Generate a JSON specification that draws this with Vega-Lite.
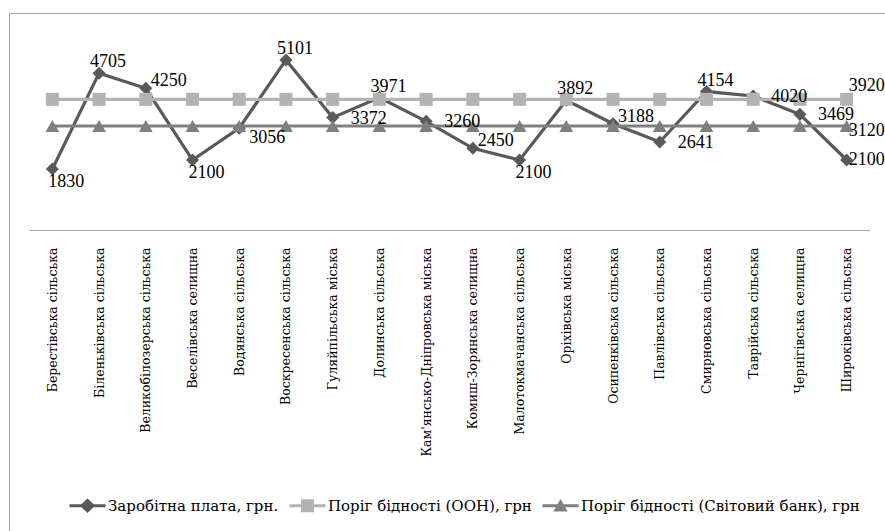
{
  "$schema": "https://vega.github.io/schema/vega-lite/v6.json",
  "autosize": {"type": "none"},
  "padding": {"left": 9, "top": 13, "right": -6, "bottom": -6},
  "width": 882,
  "height": 524,
  "background": "white",
  "config": {
    "view": {"stroke": "#a6a6a6", "strokeWidth": 1},
    "font": "DejaVu Serif",
    "text": {"font": "Liberation Serif", "fontSize": 18, "color": "black", "baseline": "middle"}
  },
  "data": {
    "values": [
      {"name": "Берестівська сільська", "w": 1830, "u": 3920, "b": 3120},
      {"name": "Біленьківська сільська", "w": 4705, "u": 3920, "b": 3120},
      {"name": "Великобілозерська сільська", "w": 4250, "u": 3920, "b": 3120},
      {"name": "Веселівська селищна", "w": 2100, "u": 3920, "b": 3120},
      {"name": "Водянська сільська", "w": 3056, "u": 3920, "b": 3120},
      {"name": "Воскресенська сільська", "w": 5101, "u": 3920, "b": 3120},
      {"name": "Гуляйпільська міська", "w": 3372, "u": 3920, "b": 3120},
      {"name": "Долинська сільська", "w": 3971, "u": 3920, "b": 3120},
      {"name": "Кам'янсько-Дніпровська міська", "w": 3260, "u": 3920, "b": 3120},
      {"name": "Комиш-Зорянська селищна", "w": 2450, "u": 3920, "b": 3120},
      {"name": "Малотокмачанська сільська", "w": 2100, "u": 3920, "b": 3120},
      {"name": "Оріхівська міська", "w": 3892, "u": 3920, "b": 3120},
      {"name": "Осипенківська сільська", "w": 3188, "u": 3920, "b": 3120},
      {"name": "Павлівська сільська", "w": 2641, "u": 3920, "b": 3120},
      {"name": "Смирновська сільська", "w": 4154, "u": 3920, "b": 3120},
      {"name": "Таврійська сільська", "w": 4020, "u": 3920, "b": 3120},
      {"name": "Чернігівська селищна", "w": 3469, "u": 3920, "b": 3120},
      {"name": "Широківська сільська", "w": 2100, "u": 3920, "b": 3120}
    ]
  },
  "transform": [{"fold": ["w", "u", "b"], "as": ["series", "value"]}],
  "encoding": {
    "x": {
      "field": "name",
      "type": "nominal",
      "sort": null,
      "scale": {"type": "point", "range": [20, 861]},
      "axis": {
        "title": null,
        "labelAngle": 270,
        "ticks": false,
        "tickSize": 0,
        "labelPadding": 17,
        "domainColor": "#a6a6a6",
        "domainWidth": 1,
        "labelFont": "DejaVu Serif",
        "labelFontSize": 12.5,
        "labelColor": "black",
        "labelLimit": 400,
        "offset": -307,
        "grid": false
      }
    },
    "y": {
      "field": "value",
      "type": "quantitative",
      "scale": {"domain": [0, 6000], "range": [217, 17]},
      "axis": null
    }
  },
  "layer": [
    {"transform": [{"filter": "datum.series === 'w'"}], "mark": {"type": "line", "color": "#595959", "strokeWidth": 3.2}},
    {"transform": [{"filter": "datum.series === 'w'"}], "mark": {"type": "point", "shape": "diamond", "filled": true, "color": "#595959", "size": 170, "opacity": 1}},
    {"transform": [{"filter": "datum.series === 'u'"}], "mark": {"type": "line", "color": "#b3b3b3", "strokeWidth": 3.2}},
    {"transform": [{"filter": "datum.series === 'u'"}], "mark": {"type": "point", "shape": "square", "filled": true, "color": "#b3b3b3", "size": 170, "opacity": 1}},
    {"transform": [{"filter": "datum.series === 'b'"}], "mark": {"type": "line", "color": "#7f7f7f", "strokeWidth": 3.2}},
    {"transform": [{"filter": "datum.series === 'b'"}], "mark": {"type": "point", "shape": "triangle-up", "filled": true, "color": "#7f7f7f", "size": 190, "opacity": 1}},
    {
      "transform": [{"filter": "datum.series === 'w'"}, {"filter": {"field": "name", "oneOf": ["Біленьківська сільська", "Воскресенська сільська", "Долинська сільська", "Оріхівська міська", "Смирновська сільська"]}}],
      "mark": {"type": "text", "align": "center", "dx": 9, "dy": -11},
      "encoding": {"text": {"field": "value", "type": "quantitative", "format": "d"}}
    },
    {
      "transform": [{"filter": "datum.series === 'w'"}, {"filter": {"field": "name", "oneOf": ["Берестівська сільська", "Веселівська селищна", "Малотокмачанська сільська"]}}],
      "mark": {"type": "text", "align": "center", "dx": 14, "dy": 13},
      "encoding": {"text": {"field": "value", "type": "quantitative", "format": "d"}}
    },
    {
      "transform": [{"filter": "datum.series === 'w'"}, {"filter": {"field": "name", "oneOf": ["Гуляйпільська міська", "Кам'янсько-Дніпровська міська", "Павлівська сільська", "Таврійська сільська", "Чернігівська селищна"]}}],
      "mark": {"type": "text", "align": "left", "dx": 18, "dy": 1},
      "encoding": {"text": {"field": "value", "type": "quantitative", "format": "d"}}
    },
    {
      "transform": [{"filter": "datum.series === 'w'"}, {"filter": {"field": "name", "oneOf": ["Великобілозерська сільська", "Комиш-Зорянська селищна", "Осипенківська сільська"]}}],
      "mark": {"type": "text", "align": "left", "dx": 5, "dy": -7},
      "encoding": {"text": {"field": "value", "type": "quantitative", "format": "d"}}
    },
    {
      "transform": [{"filter": "datum.series === 'w'"}, {"filter": {"field": "name", "oneOf": ["Водянська сільська"]}}],
      "mark": {"type": "text", "align": "left", "dx": 10, "dy": 10},
      "encoding": {"text": {"field": "value", "type": "quantitative", "format": "d"}}
    },
    {
      "transform": [{"filter": "datum.series === 'w'"}, {"filter": {"field": "name", "oneOf": ["Широківська сільська"]}}],
      "mark": {"type": "text", "align": "left", "dx": 2, "dy": 0},
      "encoding": {"text": {"field": "value", "type": "quantitative", "format": "d"}}
    },
    {
      "transform": [{"filter": "datum.series === 'u'"}, {"filter": {"field": "name", "oneOf": ["Широківська сільська"]}}],
      "mark": {"type": "text", "align": "left", "dx": 2, "dy": -13},
      "encoding": {"text": {"field": "value", "type": "quantitative", "format": "d"}}
    },
    {
      "transform": [{"filter": "datum.series === 'b'"}, {"filter": {"field": "name", "oneOf": ["Широківська сільська"]}}],
      "mark": {"type": "text", "align": "left", "dx": 2, "dy": 5},
      "encoding": {"text": {"field": "value", "type": "quantitative", "format": "d"}}
    },
    {
      "transform": [{"filter": "datum.value < 0"}],
      "mark": {"type": "point", "filled": true},
      "encoding": {
        "fill": {
          "field": "series",
          "type": "nominal",
          "scale": {"domain": ["w", "u", "b"], "range": ["#595959", "#b3b3b3", "#7f7f7f"]},
          "legend": {
            "orient": "none",
            "legendX": 60,
            "legendY": 474,
            "direction": "horizontal",
            "title": null,
            "padding": 0,
            "labelFont": "DejaVu Serif",
            "labelFontSize": 15,
            "labelColor": "black",
            "labelLimit": 400,
            "labelOffset": 2,
            "columnPadding": 10,
            "symbolSize": 1300,
            "symbolStrokeWidth": 0,
            "symbolOpacity": 1,
            "labelExpr": "datum.label === 'w' ? 'Заробітна плата, грн.' : datum.label === 'u' ? 'Поріг бідності (ООН), грн' : 'Поріг бідності (Світовий банк), грн'"
          }
        },
        "shape": {
          "field": "series",
          "type": "nominal",
          "scale": {
            "domain": ["w", "u", "b"],
            "range": [
              "M-1,-0.08H-0.34L0,-0.4L0.34,-0.08H1V0.08H0.34L0,0.4L-0.34,0.08H-1Z",
              "M-1,-0.08H-0.36V-0.36H0.36V-0.08H1V0.08H0.36V0.36H-0.36V0.08H-1Z",
              "M-1,-0.08H-0.17L0,-0.38L0.17,-0.08H1V0.08H0.26L0.4,0.32H-0.4L-0.26,0.08H-1Z"
            ]
          },
          "legend": {
            "orient": "none",
            "legendX": 60,
            "legendY": 474,
            "direction": "horizontal",
            "title": null,
            "padding": 0,
            "labelFont": "DejaVu Serif",
            "labelFontSize": 15,
            "labelColor": "black",
            "labelLimit": 400,
            "labelOffset": 2,
            "columnPadding": 10,
            "symbolSize": 1300,
            "symbolStrokeWidth": 0,
            "symbolOpacity": 1,
            "labelExpr": "datum.label === 'w' ? 'Заробітна плата, грн.' : datum.label === 'u' ? 'Поріг бідності (ООН), грн' : 'Поріг бідності (Світовий банк), грн'"
          }
        }
      }
    }
  ]
}
